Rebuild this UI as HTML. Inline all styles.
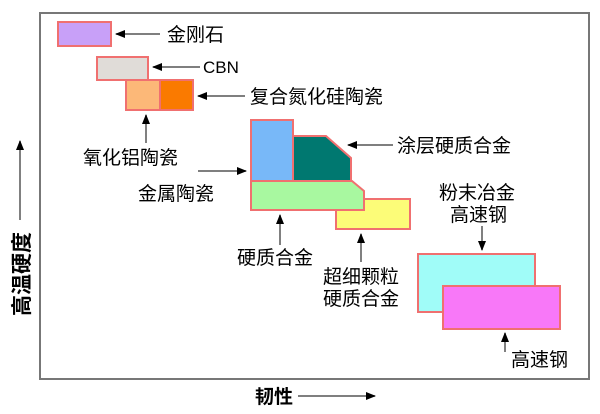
<!DOCTYPE html>
<html><head><meta charset="utf-8"><style>
body{margin:0;width:600px;height:409px;background:#fff;overflow:hidden}
svg text{font-family:"Liberation Sans","Noto Sans CJK SC",sans-serif;fill:#000}
</style></head><body>
<svg width="600" height="409" viewBox="0 0 600 409" font-size="19">
<defs><marker id="a" markerWidth="10" markerHeight="8" refX="9" refY="4" orient="auto" markerUnits="userSpaceOnUse"><path d="M0,0 L10,4 L0,8 z" fill="#000"/></marker></defs>
<rect x="40" y="13" width="549" height="366" fill="#fff" stroke="#777" stroke-width="2"/>
<g stroke="#f07070" stroke-width="2">
<rect x="58" y="22" width="53" height="24" fill="#c8a0f8"/>
<rect x="97" y="57" width="51" height="23" fill="#e0dcd8"/>
<rect x="126" y="80" width="34" height="30" fill="#fcb878"/>
<rect x="160" y="80" width="33" height="30" fill="#fa7a00"/>
<rect x="251" y="120" width="42" height="61" fill="#78b8f8"/>
<polygon points="293,136 326,136 351,158 351,181 293,181" fill="#007870"/>
<rect x="336" y="199" width="74" height="30" fill="#fcfc78"/>
<polygon points="251,181 352,181 364,191 364,210 251,210" fill="#a8f8a0"/>
<rect x="418" y="254" width="117" height="58" fill="#a0fcf8"/>
<rect x="443" y="286" width="117" height="43" fill="#f878f8"/>
</g>
<g stroke="#555" stroke-width="1.5" fill="none" marker-end="url(#a)">
<line x1="160" y1="34" x2="116" y2="34"/>
<line x1="200" y1="67" x2="153" y2="67"/>
<line x1="245" y1="96" x2="198" y2="96"/>
<line x1="146" y1="143" x2="146" y2="115"/>
<line x1="198" y1="171" x2="246" y2="171"/>
<line x1="393" y1="145" x2="348" y2="145"/>
<line x1="280" y1="245" x2="280" y2="215"/>
<line x1="361" y1="262" x2="361" y2="234"/>
<line x1="482" y1="226" x2="482" y2="250"/>
<line x1="505" y1="352" x2="505" y2="333"/>
<line x1="298" y1="396" x2="375" y2="396"/>
<line x1="20" y1="220" x2="20" y2="141"/>
</g>
<text x="167" y="41">金刚石</text>
<text x="203" y="73" font-size="17">CBN</text>
<text x="250" y="103">复合氮化硅陶瓷</text>
<text x="83" y="164">氧化铝陶瓷</text>
<text x="138" y="200">金属陶瓷</text>
<text x="397" y="152">涂层硬质合金</text>
<text x="237" y="264">硬质合金</text>
<text x="323" y="283">超细颗粒</text>
<text x="323" y="305">硬质合金</text>
<text x="439" y="199">粉末冶金</text>
<text x="450" y="221">高速钢</text>
<text x="511" y="366">高速钢</text>
<text x="255" y="403" font-weight="bold" font-size="19">韧性</text>
<text x="0" y="0" font-weight="bold" font-size="21" transform="translate(29,316) rotate(-90)">高温硬度</text>
</svg>
</body></html>
